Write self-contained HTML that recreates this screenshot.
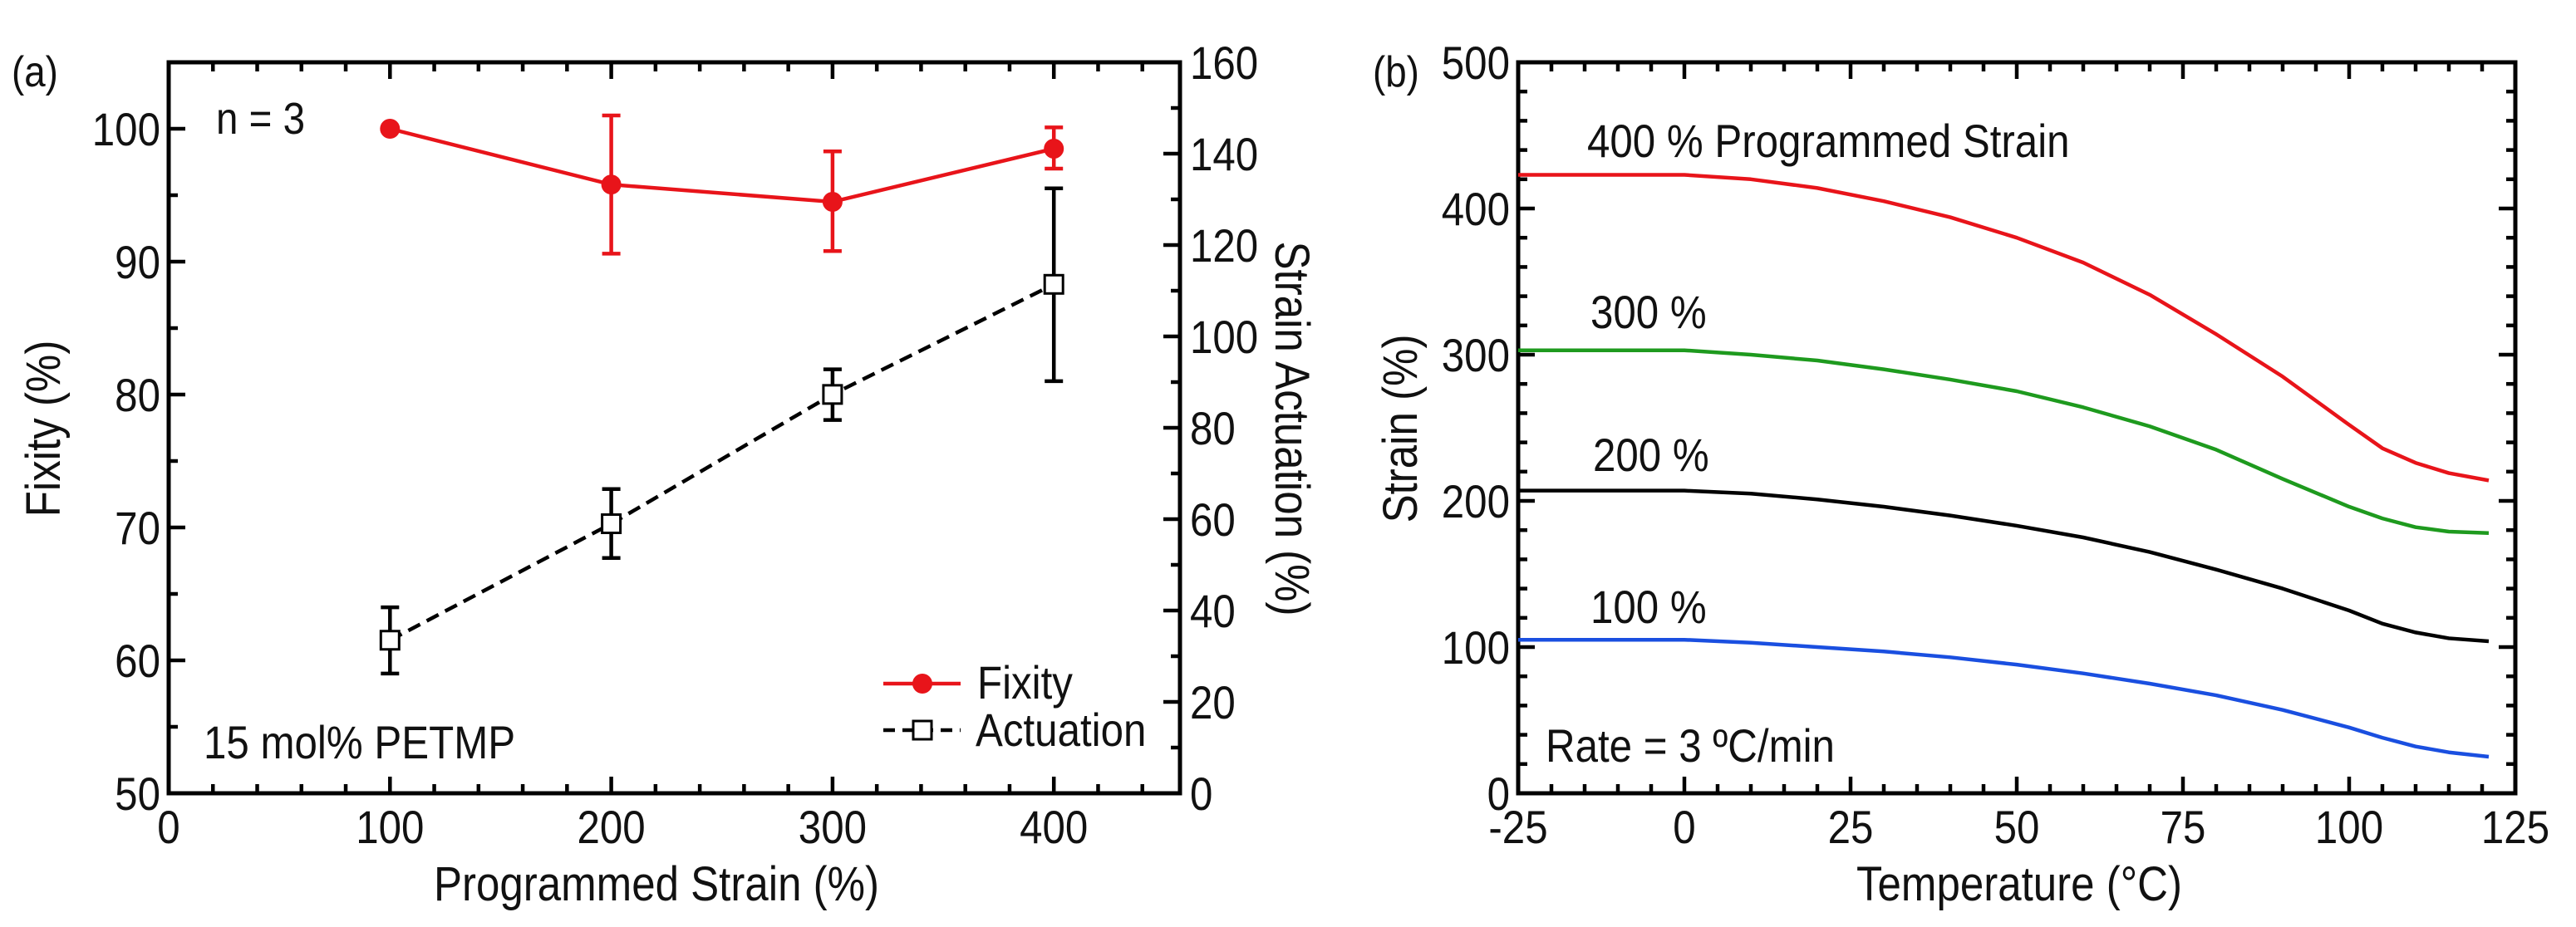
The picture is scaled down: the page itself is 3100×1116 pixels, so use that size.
<!DOCTYPE html>
<html><head><meta charset="utf-8"><style>
html,body{margin:0;padding:0;background:#fff;overflow:hidden}
svg{display:block}
text{font-family:"Liberation Sans",sans-serif;fill:#111}
</style></head><body>
<svg id="fig" width="3100" height="1116" viewBox="0 0 3100 1116" xmlns="http://www.w3.org/2000/svg"></svg>
<script>
// ---- Panel (a) data ----
const aCategories = [100, 200, 300, 400];
const fixityVals = [100, 95.8, 94.5, 98.5];
const fixityLo = [100, 90.6, 90.8, 97.0];
const fixityHi = [100, 101.0, 98.3, 100.1];
const actVals = [33.5, 59.0, 87.3, 111.4];
const actLo = [26.2, 51.5, 81.7, 90.2];
const actHi = [40.7, 66.6, 92.8, 132.4];
const aXTicks = ["0","100","200","300","400"];
const aYTicks = ["50","60","70","80","90","100"];
const aY2Ticks = ["0","20","40","60","80","100","120","140","160"];
// ---- Panel (b) data ----
const bTemps = [-25,-10,0,10,20,30,40,50,60,70,80,90,100,105,110,115,121];
const strain400 = [423,423,423,420,414,405,394,380,363,341,314,285,252,236,226,219,214];
const strain300 = [303,303,303,300,296,290,283,275,264,251,235,215,196,188,182,179,178];
const strain200 = [207,207,207,205,201,196,190,183,175,165,153,140,125,116,110,106,104];
const strain100 = [105,105,105,103,100,97,93,88,82,75,67,57,45,38,32,28,25];
const bXTicks = ["-25","0","25","50","75","100","125"];
const bYTicks = ["0","100","200","300","400","500"];

const NS="http://www.w3.org/2000/svg";
const svg=document.getElementById('fig');
function el(tag,attrs,parent){const e=document.createElementNS(NS,tag);for(const k in attrs)e.setAttribute(k,attrs[k]);(parent||svg).appendChild(e);return e;}
function txt(s,x,y,size,anchor,fill,rot){
  const t=el('text',{x:0,y:0,'font-size':size,'text-anchor':anchor||'start',fill:fill||'#111',
    transform:`translate(${x},${y})`+(rot?` rotate(${rot})`:'')+' scale(0.88,1)'});
  t.textContent=s;return t;}
const MAJ=20, MIN=11, SW=4.5, TF=56;

// ---- Panel (a) ----
const A={l:203,r:1420,t:75,b:955};
const ax=v=>A.l+(v-0)/(457-0)*(A.r-A.l);
const ay=v=>A.b-(v-50)/(105-50)*(A.b-A.t);
const ay2=v=>A.b-(v-0)/(160-0)*(A.b-A.t);
const ga=el('g',{});


el('rect',{x:A.l,y:A.t,width:A.r-A.l,height:A.b-A.t,fill:'none',stroke:'#000','stroke-width':5},ga);
for(let v=0;v<=457;v+=20){const x=ax(v);const L=v%100===0?MAJ:MIN;
  el('line',{x1:x,y1:A.b,x2:x,y2:A.b-L,stroke:'#000','stroke-width':SW},ga);
  el('line',{x1:x,y1:A.t,x2:x,y2:A.t+L,stroke:'#000','stroke-width':SW},ga);}
aXTicks.forEach(s=>{const t=txt(s,ax(+s),1015,TF,'middle');});
for(let v=50;v<=105;v+=5){const y=ay(v);const L=v%10===0?MAJ:MIN;el('line',{x1:A.l,y1:y,x2:A.l+L,y2:y,stroke:'#000','stroke-width':SW},ga);}
aYTicks.forEach(s=>{const t=txt(s,193,ay(+s)+20,TF,'end');});
for(let v=0;v<=160;v+=10){const y=ay2(v);const L=v%20===0?MAJ:MIN;el('line',{x1:A.r,y1:y,x2:A.r-L,y2:y,stroke:'#000','stroke-width':SW},ga);}
aY2Ticks.forEach(s=>{const t=txt(s,1432,ay2(+s)+20,TF,'start');});
// actuation
el('polyline',{points:aCategories.map((c,i)=>ax(c)+','+ay2(actVals[i])).join(' '),fill:'none',stroke:'#000','stroke-width':SW,'stroke-dasharray':'16,9'},ga);
aCategories.forEach((c,i)=>{const x=ax(c);
  el('line',{x1:x,y1:ay2(actLo[i]),x2:x,y2:ay2(actHi[i]),stroke:'#000','stroke-width':SW},ga);
  el('line',{x1:x-11,y1:ay2(actLo[i]),x2:x+11,y2:ay2(actLo[i]),stroke:'#000','stroke-width':SW},ga);
  el('line',{x1:x-11,y1:ay2(actHi[i]),x2:x+11,y2:ay2(actHi[i]),stroke:'#000','stroke-width':SW},ga);
  const r=el('rect',{x:x-11,y:ay2(actVals[i])-11,width:22,height:22,fill:'#fff',stroke:'#000','stroke-width':3},ga);
  });
// fixity
el('polyline',{points:aCategories.map((c,i)=>ax(c)+','+ay(fixityVals[i])).join(' '),fill:'none',stroke:'#e8141a','stroke-width':SW},ga);
aCategories.forEach((c,i)=>{const x=ax(c);
  if(fixityHi[i]!==fixityLo[i]){
  el('line',{x1:x,y1:ay(fixityLo[i]),x2:x,y2:ay(fixityHi[i]),stroke:'#e8141a','stroke-width':SW},ga);
  el('line',{x1:x-11,y1:ay(fixityLo[i]),x2:x+11,y2:ay(fixityLo[i]),stroke:'#e8141a','stroke-width':SW},ga);
  el('line',{x1:x-11,y1:ay(fixityHi[i]),x2:x+11,y2:ay(fixityHi[i]),stroke:'#e8141a','stroke-width':SW},ga);}
  const p=el('circle',{cx:x,cy:ay(fixityVals[i]),r:12,fill:'#e8141a'},ga);
  });
// legend
const lg=el('g',{},ga);


el('line',{x1:1063,y1:823,x2:1156,y2:823,stroke:'#e8141a','stroke-width':SW},lg);
el('circle',{cx:1110,cy:823,r:12,fill:'#e8141a'},lg);
txt('Fixity',1176,841,56);
el('line',{x1:1063,y1:879,x2:1156,y2:879,stroke:'#000','stroke-width':SW,'stroke-dasharray':'14,9'},lg);
el('rect',{x:1099,y:868,width:22,height:22,fill:'#fff',stroke:'#000','stroke-width':3},lg);
txt('Actuation',1174,898,56);
txt('(a)',14,104,52);
txt('n = 3',260,161,54);
txt('15 mol% PETMP',245,913,56);
txt('Programmed Strain (%)',790,1084,58,'middle');
txt('Fixity (%)',72,516,58,'middle','#111',-90);
txt('Strain Actuation  (%)',1535,516,58,'middle','#111',90);

// ---- Panel (b) ----
const B={l:1827,r:3027,t:75,b:955};
const bx=v=>B.l+(v+25)/150*(B.r-B.l);
const by=v=>B.b-v/500*(B.b-B.t);
const gb=el('g',{});


el('rect',{x:B.l,y:B.t,width:B.r-B.l,height:B.b-B.t,fill:'none',stroke:'#000','stroke-width':5},gb);
for(let v=-25;v<=125;v+=5){const x=bx(v);const L=v%25===0?MAJ:MIN;
  el('line',{x1:x,y1:B.b,x2:x,y2:B.b-L,stroke:'#000','stroke-width':SW},gb);
  el('line',{x1:x,y1:B.t,x2:x,y2:B.t+L,stroke:'#000','stroke-width':SW},gb);}
bXTicks.forEach(s=>{const t=txt(s,bx(+s),1015,TF,'middle');});
for(let v=0;v<=500;v+=20){const y=by(v);const L=v%100===0?MAJ:MIN;
  el('line',{x1:B.l,y1:y,x2:B.l+L,y2:y,stroke:'#000','stroke-width':SW},gb);
  el('line',{x1:B.r,y1:y,x2:B.r-L,y2:y,stroke:'#000','stroke-width':SW},gb);}
bYTicks.forEach(s=>{const t=txt(s,1817,by(+s)+20,TF,'end');});
[[strain400,'#e8141a','strain-400-line'],[strain300,'#1e9a1e','strain-300-line'],[strain200,'#000','strain-200-line'],[strain100,'#1a4fe0','strain-100-line']].forEach(([arr,c,n])=>{
  const p=el('polyline',{points:bTemps.map((t,i)=>bx(t)+','+by(arr[i])).join(' '),fill:'none',stroke:c,'stroke-width':SW,'stroke-linejoin':'round'},gb);
  });
txt('(b)',1652,104,52);
txt('400 % Programmed Strain',1910,189,56);
txt('300 %',1914,395,56);
txt('200 %',1917,567,56);
txt('100 %',1914,750,56);
txt('Rate = 3 ºC/min',1860,917,56);
txt('Temperature (°C)',2430,1084,58,'middle');
txt('Strain (%)',1705,516,58,'middle','#111',-90);
</script>
</body></html>
